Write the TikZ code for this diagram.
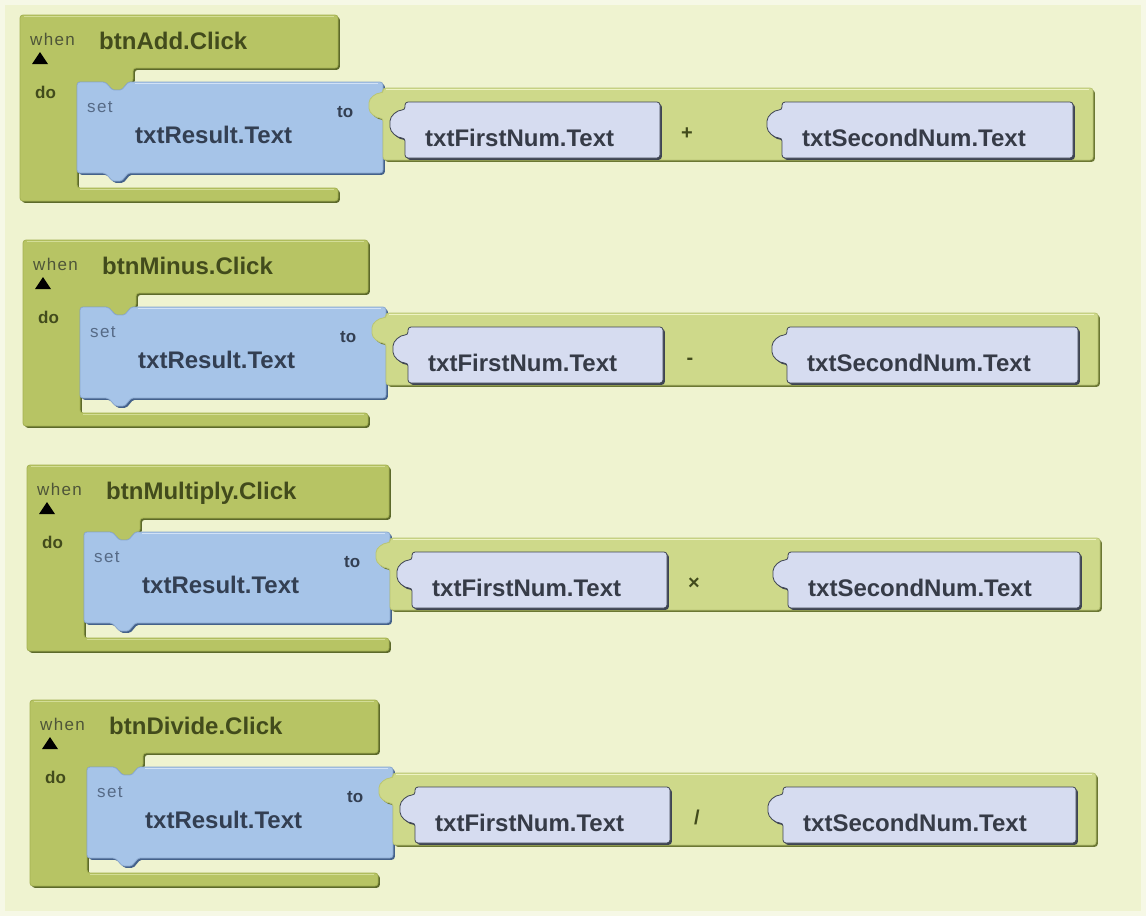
\documentclass[tikz,border=0pt]{standalone}
\usepackage{fontspec}
\setmainfont{Liberation Sans}
\definecolor{bgedge}{HTML}{F6F8E6}
\definecolor{bg}{HTML}{EFF3D0}
\definecolor{evfill}{HTML}{B7C464}
\definecolor{evline}{HTML}{A4B152}
\definecolor{evdark}{HTML}{5C692A}
\definecolor{evlight}{HTML}{D3DD96}
\definecolor{opfill}{HTML}{CED98A}
\definecolor{opline}{HTML}{B9C474}
\definecolor{opdark}{HTML}{6B7733}
\definecolor{oplight}{HTML}{EEF3C4}
\definecolor{blfill}{HTML}{A6C4E8}
\definecolor{blline}{HTML}{8AA8CF}
\definecolor{bldark}{HTML}{44618A}
\definecolor{bllight}{HTML}{D2E2F6}
\definecolor{lvfill}{HTML}{D6DCF0}
\definecolor{lvdark}{HTML}{3E4452}
\definecolor{txblue}{HTML}{333F52}
\definecolor{txlav}{HTML}{363B47}
\definecolor{txgreen}{HTML}{424B1C}
\definecolor{txwhen}{HTML}{4E5538}
\definecolor{txset}{HTML}{566A86}
\tikzset{
  lbl/.style={inner sep=0pt, anchor=base west, font=\fontsize{24}{28}\selectfont\bfseries},
  evname/.style={lbl, text=txgreen},
  bluelbl/.style={lbl, text=txblue},
  lavlbl/.style={lbl, text=txlav},
  whentxt/.style={inner sep=0pt, anchor=base west, text=txwhen, font=\fontsize{17}{20}\selectfont\addfontfeature{LetterSpace=8}},
  settxt/.style={inner sep=0pt, anchor=base west, text=txset, font=\fontsize{17}{20}\selectfont\addfontfeature{LetterSpace=8}},
  dotxt/.style={inner sep=0pt, anchor=base west, text=txgreen, font=\fontsize{17}{20}\selectfont\bfseries},
  totxt/.style={inner sep=0pt, anchor=base west, text=txblue, font=\fontsize{17}{20}\selectfont\bfseries},
  opsym/.style={inner sep=0pt, anchor=base, text=txgreen, font=\fontsize{20}{24}\selectfont\bfseries},
}
% shadow colour, fill colour, outline colour, path
\newcommand{\blockshape}[4]{%
  \fill[#1,rounded corners=3,shift={(1.8,1.8)}] #4;
  \filldraw[fill=#2,draw=#3,line width=0.8,rounded corners=3] #4;}
% tag, left, top, header width, event name, operator, second socket left, operator right
\newcommand{\eventblk}[8]{%
\begin{scope}[shift={(#2,#3)}]
  % event block (C shape)
  \blockshape{evdark}{evfill}{evline}{(0,0) -- (#4,0) -- (#4,53) -- (113,53) -- (113,67)
     .. controls (106,67) and (104,75) .. (97,75) .. controls (90,75) and (88,67) .. (80,67)
     -- (57,67) -- (57,173) -- (#4,173) -- (#4,186) -- (0,186) -- cycle}
  \draw[evlight,line width=1.2] (4,1.5) -- ({#4-4},1.5);
  \draw[evlight,line width=1.2] (60,174.5) -- ({#4-4},174.5);
  % set block
  \blockshape{bldark}{blfill}{blline}{(57,67) -- (80,67)
     .. controls (88,67) and (90,75) .. (97,75) .. controls (104,75) and (106,67) .. (113,67)
     -- (363,67) -- (363,158) -- (113,158)
     .. controls (106,158) and (104,166) .. (97,166) .. controls (90,166) and (88,158) .. (80,158)
     -- (57,158) -- cycle}
  \draw[bllight,line width=1.2] (115,68.5) -- (358,68.5);
  % operator block
  \blockshape{opdark}{opfill}{opline}{(363,73) -- (#8,73) -- (#8,145) -- (363,145) -- (363,103)
     .. controls (356,103) and (349,98) .. (349,90.5) .. controls (349,83) and (356,78) .. (363,78) -- cycle}
  \draw[oplight,line width=1.4] (366,74.5) -- ({#8-4},74.5);
  % first operand
  \blockshape{lvdark}{lvfill}{lvdark}{(385,87) -- (640,87) -- (640,143) -- (385,143) -- (385,123)
     .. controls (377,123) and (370,117) .. (370,109) .. controls (370,101) and (377,95) .. (385,95) -- cycle}
  % second operand
  \blockshape{lvdark}{lvfill}{lvdark}{(#7,87) -- ({#8-20},87) -- ({#8-20},143) -- (#7,143) -- (#7,123)
     .. controls ({#7-8},123) and ({#7-15},117) .. ({#7-15},109) .. controls ({#7-15},101) and ({#7-8},95) .. (#7,95) -- cycle}
  % texts
  \node[whentxt] (when#1) at (10,30) {when};
  \fill[black] (12,49) -- (28,49) -- (20,37) -- cycle;
  \node[evname] (ev#1) at (79,34) {#5};
  \node[dotxt] (do#1) at (15,83) {do};
  \node[settxt] (set#1) at (67,97) {set};
  \node[totxt] (to#1) at (317,102) {to};
  \node[bluelbl] (res#1) at (115,128) {txtResult.Text};
  \node[lavlbl] (first#1) at (405,131) {txtFirstNum.Text};
  \node[opsym] (op#1) at (667,124) {#6};
  \node[lavlbl] (second#1) at ({#7+20},131) {txtSecondNum.Text};
\end{scope}}
\begin{document}
\begin{tikzpicture}[x=1pt,y=-1pt]
  \useasboundingbox (0,0) rectangle (1146,916);
  \fill[bgedge] (0,0) rectangle (1146,916);
  \fill[bg] (5,5) rectangle (1141,911);
  \eventblk{A}{20}{15}{318}{btnAdd.Click}{+}{762}{1073}
  \eventblk{B}{23}{240}{345}{btnMinus.Click}{-}{764}{1075}
  \eventblk{C}{27}{465}{362}{btnMultiply.Click}{×}{761}{1073}
  \eventblk{D}{30}{700}{348}{btnDivide.Click}{/}{753}{1066}
\end{tikzpicture}
\end{document}
